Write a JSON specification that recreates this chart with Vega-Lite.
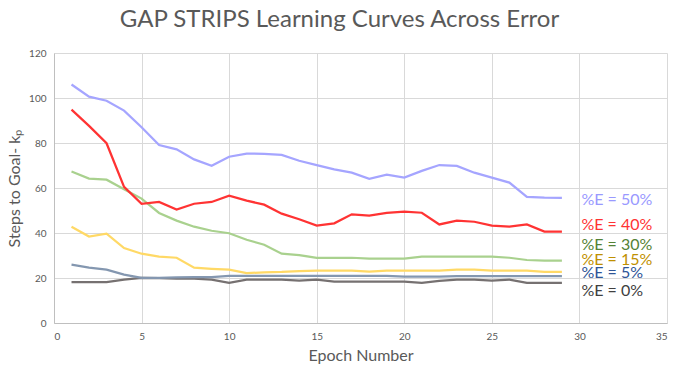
{
  "$schema": "https://vega.github.io/schema/vega-lite/v6.json",
  "width": 613,
  "height": 270,
  "autosize": {"type": "none"},
  "padding": {"left": 54, "top": 53, "right": 11, "bottom": 51},
  "background": "white",
  "title": {
    "text": "GAP STRIPS Learning Curves Across Error",
    "font": "Lato",
    "fontSize": 24,
    "fontWeight": "normal",
    "color": "#595959",
    "anchor": "middle",
    "frame": "group",
    "dx": -21,
    "offset": 16
  },
  "config": {
    "view": {"stroke": null},
    "axis": {
      "labelFont": "Lato",
      "titleFont": "Lato",
      "labelColor": "#595959",
      "titleColor": "#595959",
      "labelFontSize": 10,
      "titleFontSize": 16,
      "titleFontWeight": "normal",
      "gridColor": "#d9d9d9",
      "gridWidth": 1,
      "domainColor": "#bfbfbf",
      "ticks": false
    }
  },
  "datasets": {
    "curves": [
      {"series": "0%", "epoch": 1, "steps": 18.2}, {"series": "0%", "epoch": 2, "steps": 18.2}, {"series": "0%", "epoch": 3, "steps": 18.2}, {"series": "0%", "epoch": 4, "steps": 19.3}, {"series": "0%", "epoch": 5, "steps": 20.1}, {"series": "0%", "epoch": 6, "steps": 19.9}, {"series": "0%", "epoch": 7, "steps": 19.7}, {"series": "0%", "epoch": 8, "steps": 19.7}, {"series": "0%", "epoch": 9, "steps": 19.3}, {"series": "0%", "epoch": 10, "steps": 17.8}, {"series": "0%", "epoch": 11, "steps": 19.3}, {"series": "0%", "epoch": 12, "steps": 19.3}, {"series": "0%", "epoch": 13, "steps": 19.3}, {"series": "0%", "epoch": 14, "steps": 18.8}, {"series": "0%", "epoch": 15, "steps": 19.3}, {"series": "0%", "epoch": 16, "steps": 18.4}, {"series": "0%", "epoch": 17, "steps": 18.4}, {"series": "0%", "epoch": 18, "steps": 18.4}, {"series": "0%", "epoch": 19, "steps": 18.4}, {"series": "0%", "epoch": 20, "steps": 18.4}, {"series": "0%", "epoch": 21, "steps": 17.8}, {"series": "0%", "epoch": 22, "steps": 18.7}, {"series": "0%", "epoch": 23, "steps": 19.3}, {"series": "0%", "epoch": 24, "steps": 19.3}, {"series": "0%", "epoch": 25, "steps": 18.8}, {"series": "0%", "epoch": 26, "steps": 19.3}, {"series": "0%", "epoch": 27, "steps": 17.8}, {"series": "0%", "epoch": 28, "steps": 17.8}, {"series": "0%", "epoch": 29, "steps": 17.8},
      {"series": "5%", "epoch": 1, "steps": 25.9}, {"series": "5%", "epoch": 2, "steps": 24.6}, {"series": "5%", "epoch": 3, "steps": 23.7}, {"series": "5%", "epoch": 4, "steps": 21.5}, {"series": "5%", "epoch": 5, "steps": 20.1}, {"series": "5%", "epoch": 6, "steps": 20.1}, {"series": "5%", "epoch": 7, "steps": 20.3}, {"series": "5%", "epoch": 8, "steps": 20.4}, {"series": "5%", "epoch": 9, "steps": 20.4}, {"series": "5%", "epoch": 10, "steps": 20.9}, {"series": "5%", "epoch": 11, "steps": 20.9}, {"series": "5%", "epoch": 12, "steps": 20.9}, {"series": "5%", "epoch": 13, "steps": 20.9}, {"series": "5%", "epoch": 14, "steps": 20.9}, {"series": "5%", "epoch": 15, "steps": 20.9}, {"series": "5%", "epoch": 16, "steps": 20.9}, {"series": "5%", "epoch": 17, "steps": 20.9}, {"series": "5%", "epoch": 18, "steps": 20.9}, {"series": "5%", "epoch": 19, "steps": 20.9}, {"series": "5%", "epoch": 20, "steps": 20.6}, {"series": "5%", "epoch": 21, "steps": 20.6}, {"series": "5%", "epoch": 22, "steps": 20.6}, {"series": "5%", "epoch": 23, "steps": 20.8}, {"series": "5%", "epoch": 24, "steps": 20.8}, {"series": "5%", "epoch": 25, "steps": 20.8}, {"series": "5%", "epoch": 26, "steps": 20.8}, {"series": "5%", "epoch": 27, "steps": 20.8}, {"series": "5%", "epoch": 28, "steps": 20.8}, {"series": "5%", "epoch": 29, "steps": 20.8},
      {"series": "15%", "epoch": 1, "steps": 42.8}, {"series": "15%", "epoch": 2, "steps": 38.4}, {"series": "15%", "epoch": 3, "steps": 39.7}, {"series": "15%", "epoch": 4, "steps": 33.3}, {"series": "15%", "epoch": 5, "steps": 30.8}, {"series": "15%", "epoch": 6, "steps": 29.5}, {"series": "15%", "epoch": 7, "steps": 29}, {"series": "15%", "epoch": 8, "steps": 24.6}, {"series": "15%", "epoch": 9, "steps": 24.1}, {"series": "15%", "epoch": 10, "steps": 23.7}, {"series": "15%", "epoch": 11, "steps": 22.2}, {"series": "15%", "epoch": 12, "steps": 22.5}, {"series": "15%", "epoch": 13, "steps": 22.7}, {"series": "15%", "epoch": 14, "steps": 23.1}, {"series": "15%", "epoch": 15, "steps": 23.3}, {"series": "15%", "epoch": 16, "steps": 23.3}, {"series": "15%", "epoch": 17, "steps": 23.3}, {"series": "15%", "epoch": 18, "steps": 22.8}, {"series": "15%", "epoch": 19, "steps": 23.3}, {"series": "15%", "epoch": 20, "steps": 23.3}, {"series": "15%", "epoch": 21, "steps": 23.3}, {"series": "15%", "epoch": 22, "steps": 23.3}, {"series": "15%", "epoch": 23, "steps": 23.7}, {"series": "15%", "epoch": 24, "steps": 23.7}, {"series": "15%", "epoch": 25, "steps": 23.3}, {"series": "15%", "epoch": 26, "steps": 23.3}, {"series": "15%", "epoch": 27, "steps": 23.3}, {"series": "15%", "epoch": 28, "steps": 22.7}, {"series": "15%", "epoch": 29, "steps": 22.7},
      {"series": "30%", "epoch": 1, "steps": 67.3}, {"series": "30%", "epoch": 2, "steps": 64.2}, {"series": "30%", "epoch": 3, "steps": 63.7}, {"series": "30%", "epoch": 4, "steps": 59.4}, {"series": "30%", "epoch": 5, "steps": 55.3}, {"series": "30%", "epoch": 6, "steps": 48.9}, {"series": "30%", "epoch": 7, "steps": 45.5}, {"series": "30%", "epoch": 8, "steps": 42.8}, {"series": "30%", "epoch": 9, "steps": 41}, {"series": "30%", "epoch": 10, "steps": 39.9}, {"series": "30%", "epoch": 11, "steps": 37}, {"series": "30%", "epoch": 12, "steps": 34.8}, {"series": "30%", "epoch": 13, "steps": 30.8}, {"series": "30%", "epoch": 14, "steps": 30.2}, {"series": "30%", "epoch": 15, "steps": 29}, {"series": "30%", "epoch": 16, "steps": 29}, {"series": "30%", "epoch": 17, "steps": 29}, {"series": "30%", "epoch": 18, "steps": 28.6}, {"series": "30%", "epoch": 19, "steps": 28.6}, {"series": "30%", "epoch": 20, "steps": 28.6}, {"series": "30%", "epoch": 21, "steps": 29.5}, {"series": "30%", "epoch": 22, "steps": 29.5}, {"series": "30%", "epoch": 23, "steps": 29.5}, {"series": "30%", "epoch": 24, "steps": 29.5}, {"series": "30%", "epoch": 25, "steps": 29.5}, {"series": "30%", "epoch": 26, "steps": 29}, {"series": "30%", "epoch": 27, "steps": 28}, {"series": "30%", "epoch": 28, "steps": 27.7}, {"series": "30%", "epoch": 29, "steps": 27.7},
      {"series": "40%", "epoch": 1, "steps": 94.8}, {"series": "40%", "epoch": 2, "steps": 87.6}, {"series": "40%", "epoch": 3, "steps": 79.9}, {"series": "40%", "epoch": 4, "steps": 60.5}, {"series": "40%", "epoch": 5, "steps": 53}, {"series": "40%", "epoch": 6, "steps": 53.8}, {"series": "40%", "epoch": 7, "steps": 50.4}, {"series": "40%", "epoch": 8, "steps": 53}, {"series": "40%", "epoch": 9, "steps": 53.8}, {"series": "40%", "epoch": 10, "steps": 56.6}, {"series": "40%", "epoch": 11, "steps": 54.4}, {"series": "40%", "epoch": 12, "steps": 52.6}, {"series": "40%", "epoch": 13, "steps": 48.6}, {"series": "40%", "epoch": 14, "steps": 46.1}, {"series": "40%", "epoch": 15, "steps": 43.3}, {"series": "40%", "epoch": 16, "steps": 44.3}, {"series": "40%", "epoch": 17, "steps": 48.3}, {"series": "40%", "epoch": 18, "steps": 47.7}, {"series": "40%", "epoch": 19, "steps": 48.9}, {"series": "40%", "epoch": 20, "steps": 49.5}, {"series": "40%", "epoch": 21, "steps": 49}, {"series": "40%", "epoch": 22, "steps": 43.8}, {"series": "40%", "epoch": 23, "steps": 45.5}, {"series": "40%", "epoch": 24, "steps": 45}, {"series": "40%", "epoch": 25, "steps": 43.3}, {"series": "40%", "epoch": 26, "steps": 42.8}, {"series": "40%", "epoch": 27, "steps": 43.8}, {"series": "40%", "epoch": 28, "steps": 40.6}, {"series": "40%", "epoch": 29, "steps": 40.6},
      {"series": "50%", "epoch": 1, "steps": 106}, {"series": "50%", "epoch": 2, "steps": 100.6}, {"series": "50%", "epoch": 3, "steps": 98.8}, {"series": "50%", "epoch": 4, "steps": 94.4}, {"series": "50%", "epoch": 5, "steps": 87}, {"series": "50%", "epoch": 6, "steps": 79.1}, {"series": "50%", "epoch": 7, "steps": 77.2}, {"series": "50%", "epoch": 8, "steps": 72.7}, {"series": "50%", "epoch": 9, "steps": 69.9}, {"series": "50%", "epoch": 10, "steps": 73.9}, {"series": "50%", "epoch": 11, "steps": 75.3}, {"series": "50%", "epoch": 12, "steps": 75.2}, {"series": "50%", "epoch": 13, "steps": 74.7}, {"series": "50%", "epoch": 14, "steps": 72.1}, {"series": "50%", "epoch": 15, "steps": 70.2}, {"series": "50%", "epoch": 16, "steps": 68.3}, {"series": "50%", "epoch": 17, "steps": 66.8}, {"series": "50%", "epoch": 18, "steps": 64.1}, {"series": "50%", "epoch": 19, "steps": 65.9}, {"series": "50%", "epoch": 20, "steps": 64.6}, {"series": "50%", "epoch": 21, "steps": 67.6}, {"series": "50%", "epoch": 22, "steps": 70.2}, {"series": "50%", "epoch": 23, "steps": 69.8}, {"series": "50%", "epoch": 24, "steps": 66.8}, {"series": "50%", "epoch": 25, "steps": 64.6}, {"series": "50%", "epoch": 26, "steps": 62.4}, {"series": "50%", "epoch": 27, "steps": 56.1}, {"series": "50%", "epoch": 28, "steps": 55.7}, {"series": "50%", "epoch": 29, "steps": 55.6}
    ],
    "labels": [
      {"series": "50%", "label": "%E = 50%", "epoch": 30, "steps": 54.6},
      {"series": "40%", "label": "%E = 40%", "epoch": 30, "steps": 43.6},
      {"series": "30%", "label": "%E = 30%", "epoch": 30, "steps": 34.5},
      {"series": "15%", "label": "%E = 15%", "epoch": 30, "steps": 28.2},
      {"series": "5%", "label": "%E = 5%", "epoch": 30, "steps": 22.1},
      {"series": "0%", "label": "%E = 0%", "epoch": 30, "steps": 14.1}
    ]
  },
  "layer": [
    {
      "data": {"name": "curves"},
      "mark": {"type": "line", "strokeWidth": 2.25, "clip": true},
      "encoding": {
        "x": {
          "field": "epoch", "type": "quantitative",
          "scale": {"domain": [0, 35], "nice": false, "zero": false},
          "axis": {"values": [0, 5, 10, 15, 20, 25, 30, 35], "title": "Epoch Number", "labelPadding": 8, "titlePadding": 6, "grid": true}
        },
        "y": {
          "field": "steps", "type": "quantitative",
          "scale": {"domain": [0, 120], "nice": false},
          "axis": {"values": [0, 20, 40, 60, 80, 100, 120], "title": "Steps to Goal- kₚ", "labelPadding": 8, "titlePadding": 6, "grid": true}
        },
        "color": {
          "field": "series", "type": "nominal",
          "scale": {"domain": ["0%", "5%", "15%", "30%", "40%", "50%"], "range": ["#767171", "#8497B0", "#FFD966", "#A9D18E", "#FF3333", "#A5A5FF"]},
          "legend": null
        }
      }
    },
    {
      "data": {"name": "labels"},
      "mark": {"type": "text", "align": "left", "baseline": "middle", "dx": 2, "font": "Lato", "fontSize": 16},
      "encoding": {
        "x": {"field": "epoch", "type": "quantitative"},
        "y": {"field": "steps", "type": "quantitative"},
        "text": {"field": "label"},
        "color": {
          "field": "series", "type": "nominal",
          "scale": {"domain": ["0%", "5%", "15%", "30%", "40%", "50%"], "range": ["#404040", "#2F5597", "#BF9000", "#548235", "#FF3333", "#9999FF"]},
          "legend": null
        }
      }
    }
  ],
  "resolve": {"scale": {"color": "independent"}}
}
